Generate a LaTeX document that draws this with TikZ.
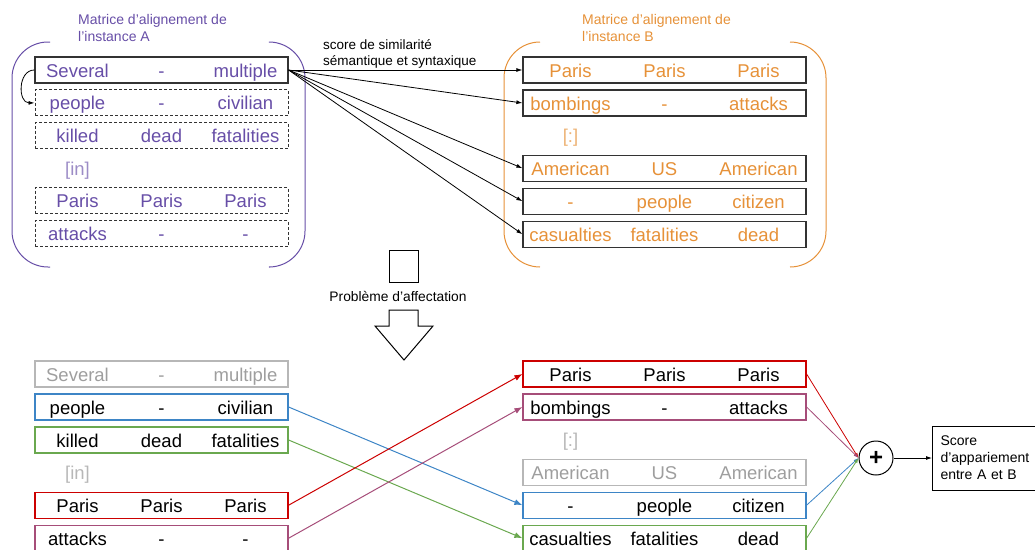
\documentclass[tikz,border=0pt]{standalone}
\usepackage{fontspec}
\setmainfont{Liberation Sans}
\usepackage{xcolor}
\usetikzlibrary{positioning,arrows.meta}

\definecolor{violA}{HTML}{674EA7}
\definecolor{orangeB}{HTML}{E69138}
\definecolor{redM}{HTML}{CC0000}
\definecolor{blueM}{HTML}{3D85C6}
\definecolor{greenM}{HTML}{6AA84F}
\definecolor{pinkM}{HTML}{A64D79}
\definecolor{greyM}{HTML}{B7B7B7}
\definecolor{greyT}{HTML}{9E9E9E}

\newcommand{\cellsA}[3]{\makebox[84pt]{#1}\makebox[84pt]{#2}\makebox[84pt]{#3}}
\newcommand{\cellsB}[3]{\makebox[94pt]{#1}\makebox[94pt]{#2}\makebox[94pt]{#3}}

\begin{document}
\begin{tikzpicture}[
  x=1pt, y=-1pt,
  node distance=5.8pt,
  rowA/.style={minimum width=253pt, minimum height=26pt, inner sep=0pt,
               text height=18pt, text depth=4pt, font=\fontsize{18.5}{22}\selectfont},
  rowB/.style={rowA, minimum width=283pt},
  solidrow/.style={draw=black!80, line width=1.2pt},
  dashrow/.style={draw=black!80, line width=1pt, dash pattern=on 3pt off 2pt},
  ghost/.style={draw=greyM, line width=1.2pt, text=greyT},
  colbox/.style={draw=#1, line width=1.2pt},
  label/.style={font=\fontsize{14}{17}\selectfont, align=left, inner sep=0pt},
  arrow/.style={-{Latex[length=6pt,width=4pt]}, line width=0.8pt},
  link/.style={-{Latex[length=8pt,width=6pt]}, draw=#1, line width=1pt},
  sumlink/.style={-{Latex[length=5pt,width=3.5pt]}, draw=#1, line width=0.8pt},
  brace/.style={rounded corners=36pt, line width=1pt}
]
\useasboundingbox (0,0) rectangle (1035,549);

% instance A
\node[label, text=violA, anchor=north west] (titA) at (78,14) {Matrice d’alignement de\\l’instance A};
\node[rowA, solidrow, text=violA] (sevA) at (161.5,70) {\cellsA{Several}{-}{multiple}};
\node[rowA, dashrow, text=violA] (peoA) [below=of sevA] {\cellsA{people}{-}{civilian}};
\node[rowA, dashrow, text=violA] (kilA) [below=of peoA] {\cellsA{killed}{dead}{fatalities}};
\node[rowA, text=violA!65] (inA) [below=of kilA] {\cellsA{[in]}{}{}};
\node[rowA, dashrow, text=violA] (parA) [below=of inA] {\cellsA{Paris}{Paris}{Paris}};
\node[rowA, dashrow, text=violA] (attA) [below=of parA] {\cellsA{attacks}{-}{-}};
\draw[brace, violA] (50,42) -- (12,42) -- (12,267) -- (50,267);
\draw[brace, violA] (270,42) -- (305,42) -- (305,267) -- (270,267);
\draw[arrow] (sevA.west) to[out=180, in=180, looseness=1.3] (peoA.west);

% instance B
\node[label, text=orangeB, anchor=north west] (titB) at (582,14) {Matrice d’alignement de\\l’instance B};
\node[rowB, solidrow, text=orangeB] (parB) at (664.5,70) {\cellsB{Paris}{Paris}{Paris}};
\node[rowB, solidrow, text=orangeB] (bomB) [below=of parB] {\cellsB{bombings}{-}{attacks}};
\node[rowB, text=orangeB!70] (colB) [below=of bomB] {\cellsB{[:]}{}{}};
\node[rowB, solidrow, text=orangeB] (amB) [below=of colB] {\cellsB{American}{US}{American}};
\node[rowB, solidrow, text=orangeB] (citB) [below=of amB] {\cellsB{-}{people}{citizen}};
\node[rowB, solidrow, text=orangeB] (casB) [below=of citB] {\cellsB{casualties}{fatalities}{dead}};
\draw[brace, orangeB] (540,42) -- (504,42) -- (504,267) -- (540,267);
\draw[brace, orangeB] (790,42) -- (826,42) -- (826,267) -- (790,267);

\node[label, font=\fontsize{13.5}{16}\selectfont, anchor=north west] (simi) at (323,39) {score de similarité\\sémantique et syntaxique};
\draw[arrow] (sevA.east) -- (parB.west);
\draw[arrow] (sevA.east) -- (bomB.west);
\draw[arrow] (sevA.east) -- (amB.west);
\draw[arrow] (sevA.east) -- (citB.west);
\draw[arrow] (sevA.east) -- (casB.west);

% assignment step
\node[draw, line width=1pt, minimum width=29pt, minimum height=32pt, inner sep=0pt] (sq) at (403.5,266) {};
\node[font=\fontsize{13.8}{16}\selectfont, inner sep=0pt] (pbl) at (398,296) {Problème d’affectation};
\draw[line width=1pt] (389,310) -- (418,310) -- (418,326) -- (433,326) -- (404,360)
  -- (375,326) -- (389,326) -- cycle;

% matching
\node[rowA, ghost] (sevC) at (161.5,374) {\cellsA{Several}{-}{multiple}};
\node[rowA, colbox=blueM] (peoC) [below=of sevC] {\cellsA{people}{-}{civilian}};
\node[rowA, colbox=greenM] (kilC) [below=of peoC] {\cellsA{killed}{dead}{fatalities}};
\node[rowA, text=greyM] (inC) [below=of kilC] {\cellsA{[in]}{}{}};
\node[rowA, colbox=redM] (parC) [below=of inC] {\cellsA{Paris}{Paris}{Paris}};
\node[rowA, colbox=pinkM] (attC) [below=of parC] {\cellsA{attacks}{-}{-}};

\node[rowB, colbox=redM] (parD) at (664.5,374) {\cellsB{Paris}{Paris}{Paris}};
\node[rowB, colbox=pinkM] (bomD) [below=of parD] {\cellsB{bombings}{-}{attacks}};
\node[rowB, text=greyM] (colD) [below=of bomD] {\cellsB{[:]}{}{}};
\node[rowB, ghost] (amD) [below=of colD] {\cellsB{American}{US}{American}};
\node[rowB, colbox=blueM] (citD) [below=of amD] {\cellsB{-}{people}{citizen}};
\node[rowB, colbox=greenM] (casD) [below=of citD] {\cellsB{casualties}{fatalities}{dead}};

\draw[link=blueM] (peoC.east) -- (citD.west);
\draw[link=greenM] (kilC.east) -- (casD.west);
\draw[link=redM] (parC.east) -- (parD.west);
\draw[link=pinkM] (attC.east) -- (bomD.west);

\node[circle, draw, line width=1pt, minimum size=34pt, inner sep=0pt,
      font=\fontsize{24}{24}\selectfont\bfseries] (sum) at (876,458) {+};
\draw[sumlink=redM] (parD.east) -- (sum.west);
\draw[sumlink=pinkM] (bomD.east) -- (sum.west);
\draw[sumlink=blueM] (citD.east) -- (sum.west);
\draw[sumlink=greenM] (casD.east) -- (sum.west);

\node[draw, line width=1pt, anchor=west, label, inner sep=8pt, text width=110pt,
      minimum height=64pt] (score) at (932,458) {Score\\d’appariement\\entre A et B};
\draw[arrow] (sum.east) -- (score.west);
\end{tikzpicture}
\end{document}
